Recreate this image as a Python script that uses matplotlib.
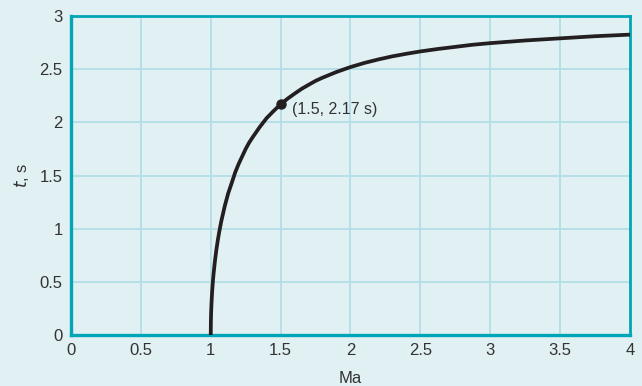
import matplotlib
matplotlib.use("Agg")
import matplotlib.pyplot as plt

# Data
ma_values = [1.0, 1.001, 1.0025, 1.005, 1.01, 1.015, 1.02, 1.03, 1.04, 1.05, 1.06, 1.075,
             1.1, 1.125, 1.15, 1.175, 1.2, 1.225, 1.25, 1.275, 1.3, 1.35, 1.4, 1.45,
             1.5, 1.55, 1.6, 1.65, 1.7, 1.75, 1.8, 1.9, 2.0, 2.1, 2.2, 2.3, 2.4,
             2.5, 2.625, 2.75, 2.875, 3.0, 3.25, 3.5, 3.75, 4.0]
t_values = [0.0, 0.13, 0.205, 0.29, 0.41, 0.50, 0.573, 0.697, 0.80, 0.887, 0.965, 1.068,
            1.212, 1.333, 1.43, 1.53, 1.61, 1.68, 1.75, 1.81, 1.86, 1.955, 2.04, 2.107,
            2.17, 2.223, 2.27, 2.315, 2.353, 2.39, 2.42, 2.474, 2.52, 2.559, 2.592, 2.621, 2.645,
            2.667, 2.69, 2.71, 2.73, 2.745, 2.77, 2.79, 2.81, 2.825]
marked_ma = [1.5]
marked_t = [2.17]
annotation = "(1.5, 2.17 s)"
x_ticks = [0, 0.5, 1, 1.5, 2, 2.5, 3, 3.5, 4]
x_tick_labels = ["0", "0.5", "1", "1.5", "2", "2.5", "3", "3.5", "4"]
y_ticks = [0, 0.5, 1, 1.5, 2, 2.5, 3]
y_tick_labels = ["0", "0.5", "1", "1.5", "2", "2.5", "3"]

plt.rcParams['font.family'] = ['Liberation Sans', 'DejaVu Sans']

bg = "#e1f0f3"
spine_c = "#00a6b6"
grid_c = "#b2dee7"
text_c = "#333333"

fig = plt.figure(figsize=(6.42, 3.86), dpi=100, facecolor=bg)
ax = fig.add_axes([0.1106, 0.1321, 0.8707, 0.8264], facecolor=bg)

ax.plot(ma_values, t_values, color="#231f20", lw=2.7, solid_capstyle="butt",
        solid_joinstyle="round", zorder=3)
ax.plot(marked_ma, marked_t, "o", color="#231f20", ms=6.5, zorder=4)
ax.annotate(annotation, xy=(marked_ma[0], marked_t[0]), xytext=(8, -4),
            textcoords="offset points", fontsize=11.5, color=text_c, va="center", ha="left")

ax.set_xlim(0, 4)
ax.set_ylim(0, 3)
ax.set_xticks(x_ticks)
ax.set_xticklabels(x_tick_labels)
ax.set_yticks(y_ticks)
ax.set_yticklabels(y_tick_labels)
ax.tick_params(length=0, labelsize=12, colors=text_c, pad=6)
ax.grid(True, color=grid_c, lw=1.3)
ax.set_axisbelow(True)
for side in ["top", "right"]:
    ax.spines[side].set_color(spine_c)
    ax.spines[side].set_linewidth(2.0)
for side in ["left", "bottom"]:
    ax.spines[side].set_color(spine_c)
    ax.spines[side].set_linewidth(2.4)

ax.set_xlabel("Ma", fontsize=12, color=text_c, labelpad=9)
ax.set_ylabel("$\\mathit{t}$, s", fontsize=12, color=text_c, labelpad=6)

fig.savefig("out.png", dpi=100, facecolor=bg)
